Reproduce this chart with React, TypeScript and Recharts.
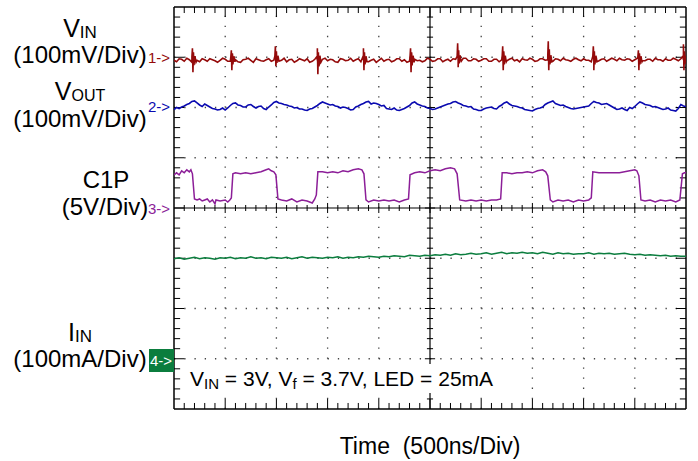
import React from "react";
import { LineChart, Line, XAxis, YAxis, ReferenceLine } from "recharts";

// scope screen: 10 time divisions (500ns/div), 8 vertical divisions
const X_DIVS = 10;
const Y_HALF = 4;
const SAMPLE_STEP = 0.1; // divisions between samples in the base records
const MID_SHIFT = 0.05; // second record, half a sample later

// channel ground markers (divisions from screen centre) and scales
const CH1_OFFSET = 2.98;
const CH2_OFFSET = 2.0;
const CH3_OFFSET = 0;
const CH4_OFFSET = -3.0;
const CH1_SCALE = 100; // mV/div
const CH2_SCALE = 100; // mV/div
const CH3_SCALE = 5; // V/div
const CH4_SCALE = 100; // mA/div

// VIN ripple (mV), sampled every 0.1 div
const VIN_MV = [
  -4, -1, -6, -3, -2, -7, -3, -1, -5, -4,
  -2, -6, -3, -8, -2, -4, -1, -5, -3, -6,
  -1, -4, -7, -2, -5, -3, -1, -6, -4, -2,
  -5, -3, -8, -2, -4, -6, -1, -3, -7, -2,
  -4, -6, -2, -5, -1, -3, -6, -2, -4, -5,
  -2, -5, -1, -4, -6, -2, -3, 0, -5, -2,
  -4, -1, -6, -2, -3, -5, 0, -3, -1, -4,
  -2, -5, -1, -3, -6, -2, 0, -4, -2, -3,
  -1, -4, -2, -5, -1, -3, -2, 0, -4, -2,
  -3, -1, -5, -2, 0, -3, -1, -4, -2, -1,
  -3,
];

// VIN ripple (mV), in-between samples
const VIN_MID_MV = [
  -7, -2, 0, -8, -4, -1, -6, -3, -8, 0,
  -6, -1, -7, -3, 0, -8, -3, -6, -1, -4,
  -6, 0, -3, -8, -1, -5, -8, -2, -6, 0,
  -2, -7, -1, -5, 0, -3, -7, -1, -4, -8,
  0, -3, -7, -1, -6, -8, -1, -5, -7, 0,
  -6, -1, -7, -2, -1, -6, 0, -5, -1, -6,
  -1, -6, -2, -7, 0, -2, -5, -7, -3, 0,
  -6, -1, -4, -7, -1, -5, -3, -6, 0, -5,
  -4, -7, 0, -2, -6, 0, -5, -3, -1, -6,
  0, -5, -2, -6, -3, -6, -4, 0, -5, -3,
];

// VIN switching spikes: [time div, mV]
const VIN_SPIKES: [number, number][] = [
  [0.35, 3], [0.36, 20], [0.37, -28], [0.38, 12], [0.39, -14], [0.41, 4], [0.43, -8],
  [1.11, 3], [1.12, 16], [1.13, -24], [1.14, 10], [1.15, -12], [1.17, 4], [1.19, -7],
  [1.97, 4], [1.98, 24], [1.99, -16], [2.0, 14], [2.01, -9], [2.03, 5], [2.05, -6],
  [2.79, 3], [2.8, 20], [2.81, -32], [2.82, 12], [2.83, -16], [2.85, 5], [2.87, -8],
  [3.69, 3], [3.7, 20], [3.71, -24], [3.72, 12], [3.73, -12], [3.75, 4], [3.77, -7],
  [4.61, 3], [4.62, 20], [4.63, -28], [4.64, 12], [4.65, -14], [4.67, 5], [4.69, -8],
  [5.53, 4], [5.54, 30], [5.55, -18], [5.56, 16], [5.57, -10], [5.59, 6], [5.61, -6],
  [6.41, 4], [6.42, 24], [6.43, -24], [6.44, 14], [6.45, -12], [6.47, 5], [6.49, -7],
  [7.3, 5], [7.31, 34], [7.32, -24], [7.33, 18], [7.34, -12], [7.36, 6], [7.38, -7],
  [8.18, 4], [8.19, 24], [8.2, -24], [8.21, 14], [8.22, -12], [8.24, 5], [8.26, -7],
  [9.06, 3], [9.07, 16], [9.08, -24], [9.09, 10], [9.1, -12], [9.12, 4], [9.14, -7],
  [9.94, 4], [9.95, 28], [9.96, -24], [9.97, 14], [9.98, -12], [9.99, 5],
];

// VOUT ripple (mV), sampled every 0.1 div
const VOUT_MV = [
  -4, -2, 3, 8, 13, 5, 7, 1, -3, -4,
  -5, 4, 9, 4, 1, 6, -1, 3, -4, 5,
  12, 8, 5, 2, 0, -3, -6, -2, 4, 11,
  7, 6, 2, 1, -2, -4, 3, 8, 12, 9,
  6, 4, -3, -1, -6, -2, 4, 11, 5, 2,
  -2, -3, 1, 5, 8, 12, 7, 3, 2, -4,
  -6, -1, 1, -3, 5, 11, 4, 2, -1, -5,
  -7, -2, 1, 9, 13, 6, 5, 0, -3, -1,
  1, 3, 12, 9, 7, 5, -1, -3, -4, 0,
  2, 11, 6, 4, 2, -2, -3, -5, -7, 6,
  2,
];

// VOUT ripple (mV), in-between samples
const VOUT_MID_MV = [
  0, 1, 6, 12, 9, 2, 4, -2, -5, -1,
  -1, 8, 5, 1, 5, 2, 2, -2, 1, 10,
  9, 6, 3, -1, -3, -5, -3, 1, 8, 9,
  5, 3, -1, 0, -5, 1, 6, 11, 7, 8,
  3, -2, -4, -5, -4, 1, 9, 7, 3, -1,
  -4, -1, 3, 7, 11, 9, 4, 1, -3, -6,
  -3, 0, -2, 2, 9, 7, 3, 0, -4, -6,
  -4, -1, 6, 11, 8, 4, 2, -2, -2, 0,
  2, 8, 10, 6, 8, 2, -4, -1, -6, -2,
  7, 9, 5, 1, 0, -4, -1, -6, -2, 3,
];

// C1P flying-cap node (V): [time div, volts]
const C1P_V: [number, number][] = [
  [0, 3.3], [0.05, 3.5], [0.1, 3.3], [0.15, 3.7], [0.2, 3.5], [0.25, 3.8], [0.3, 3.6], [0.33, 3.8],
  [0.36, 3.4], [0.4, 0.9], [0.45, 0.8], [0.5, 0.9], [0.55, 0.7], [0.6, 0.8], [0.65, 0.9], [0.7, 0.6],
  [0.75, 0.8], [0.8, 0.4], [0.82, 0.8], [0.9, 0.7], [1.0, 0.8], [1.05, 0.6], [1.09, 0.8],
  [1.12, 1.0], [1.15, 3.4], [1.2, 3.5], [1.3, 3.4], [1.4, 3.5], [1.5, 3.4], [1.6, 3.5], [1.7, 3.6],
  [1.8, 3.8], [1.85, 3.9], [1.9, 3.7], [1.95, 3.6],
  [1.99, 3.3], [2.03, 0.9], [2.1, 0.8], [2.2, 0.7], [2.3, 0.9], [2.4, 0.6], [2.5, 0.8], [2.6, 0.7],
  [2.7, 0.5], [2.75, 0.9], [2.78, 1.3],
  [2.81, 3.6], [2.9, 3.6], [3.0, 3.5], [3.1, 3.6], [3.2, 3.5], [3.3, 3.7], [3.4, 3.6], [3.5, 3.8],
  [3.6, 3.9], [3.67, 3.8],
  [3.71, 3.4], [3.75, 0.8], [3.8, 0.6], [3.9, 0.8], [4.0, 0.7], [4.1, 0.8], [4.2, 0.7], [4.3, 0.8],
  [4.4, 0.6], [4.5, 0.8], [4.58, 0.9],
  [4.61, 3.3], [4.7, 3.5], [4.8, 3.6], [4.9, 3.5], [5.0, 3.7], [5.1, 3.8], [5.2, 3.7], [5.3, 3.9],
  [5.4, 4.0], [5.48, 3.9],
  [5.53, 3.4], [5.58, 0.8], [5.7, 0.7], [5.8, 0.8], [5.9, 0.7], [6.0, 0.8], [6.1, 0.7], [6.2, 0.8],
  [6.3, 0.8], [6.38, 0.9],
  [6.41, 3.5], [6.5, 3.5], [6.6, 3.4], [6.7, 3.5], [6.8, 3.5], [6.9, 3.6], [7.0, 3.5], [7.1, 3.7],
  [7.2, 3.8], [7.26, 3.6],
  [7.3, 3.2], [7.35, 0.8], [7.4, 0.6], [7.5, 0.8], [7.6, 0.7], [7.7, 0.8], [7.8, 0.6], [7.9, 0.8],
  [8.0, 0.7], [8.1, 0.8], [8.15, 1.0],
  [8.18, 3.6], [8.3, 3.5], [8.4, 3.5], [8.5, 3.5], [8.6, 3.5], [8.7, 3.5], [8.8, 3.6], [8.9, 3.7],
  [9.0, 3.8], [9.04, 3.7],
  [9.08, 3.2], [9.12, 0.8], [9.2, 0.7], [9.3, 0.8], [9.4, 0.6], [9.5, 0.8], [9.6, 0.7], [9.7, 0.8],
  [9.8, 0.6], [9.88, 0.8],
  [9.93, 3.4], [9.97, 3.5], [10, 3.5],
];

// input current (mA), sampled every 0.1 div
const IIN_MA = [
  199, 201, 198, 200, 202, 199, 201, 200, 198, 201,
  200, 202, 199, 201, 200, 203, 200, 201, 199, 202,
  201, 200, 202, 199, 201, 203, 200, 202, 201, 200,
  202, 201, 203, 200, 202, 201, 203, 202, 204, 203,
  202, 204, 203, 205, 204, 203, 206, 205, 204, 206,
  205, 207, 206, 208, 206, 209, 207, 208, 210, 208,
  209, 211, 208, 210, 212, 209, 211, 210, 212, 210,
  211, 209, 212, 210, 208, 211, 209, 210, 208, 209,
  209, 211, 208, 210, 209, 210, 208, 209, 210, 208,
  207, 208, 206, 207, 206, 205, 206, 204, 205, 204,
  204,
];

const sampled = (vals: number[], shift = 0): [number, number][] =>
  vals.map((v, i) => [Math.round((shift + i * SAMPLE_STEP) * 1000) / 1000, v]);

const toScreen = (pts: [number, number][], offset: number, scale: number) =>
  pts
    .slice()
    .sort((a, b) => a[0] - b[0])
    .map(([t, v]) => ({ t, v: offset + v / scale }));

const ch1Data = toScreen(
  [...sampled(VIN_MV), ...sampled(VIN_MID_MV, MID_SHIFT), ...VIN_SPIKES],
  CH1_OFFSET,
  CH1_SCALE
);
const ch2Data = toScreen([...sampled(VOUT_MV), ...sampled(VOUT_MID_MV, MID_SHIFT)], CH2_OFFSET, CH2_SCALE);
const ch3Data = toScreen(C1P_V, CH3_OFFSET, CH3_SCALE);
const ch4Data = toScreen(sampled(IIN_MA), CH4_OFFSET, CH4_SCALE);

const FONT = "'Liberation Sans', Arial, sans-serif";

function gridLines() {
  const out: React.ReactNode[] = [];
  for (let i = 1; i < X_DIVS; i++) {
    if (i === 5) continue;
    out.push(
      <ReferenceLine key={"gx" + i} x={i} stroke="#444" strokeWidth={1.3} strokeDasharray="1.3 8.75" />
    );
  }
  for (let j = -3; j <= 3; j++) {
    if (j === 0) continue;
    out.push(
      <ReferenceLine key={"gy" + j} y={j} stroke="#444" strokeWidth={1.3} strokeDasharray="1.3 8.94" />
    );
  }
  // minor ticks on the frame and on the centre cross
  for (let i = 1; i < X_DIVS * 5; i++) {
    const x = i / 5;
    const major = i % 5 === 0;
    const len = major ? 0.2 : 0.12;
    const c = major ? 0.1 : 0.06;
    out.push(<ReferenceLine key={"tt" + i} segment={[{ x, y: Y_HALF }, { x, y: Y_HALF - len }]} stroke="#000" />);
    out.push(<ReferenceLine key={"tb" + i} segment={[{ x, y: -Y_HALF }, { x, y: -Y_HALF + len }]} stroke="#000" />);
    out.push(<ReferenceLine key={"tc" + i} segment={[{ x, y: -c }, { x, y: c }]} stroke="#000" />);
  }
  for (let i = 1; i < Y_HALF * 10; i++) {
    const y = -Y_HALF + i / 5;
    const major = i % 5 === 0;
    const len = major ? 0.2 : 0.12;
    const c = major ? 0.1 : 0.06;
    out.push(<ReferenceLine key={"tl" + i} segment={[{ x: 0, y }, { x: len, y }]} stroke="#000" />);
    out.push(<ReferenceLine key={"tr" + i} segment={[{ x: X_DIVS, y }, { x: X_DIVS - len, y }]} stroke="#000" />);
    out.push(<ReferenceLine key={"tm" + i} segment={[{ x: 5 - c, y }, { x: 5 + c, y }]} stroke="#000" />);
  }
  return out;
}

export default function App() {
  return (
    <div style={{ position: "absolute", left: 0, top: 0, width: 698, height: 461, background: "#fff" }}>
      <LineChart width={698} height={461} margin={{ top: 7, right: 12, bottom: 52, left: 174 }}>
        <XAxis type="number" dataKey="t" domain={[0, X_DIVS]} hide allowDataOverflow />
        <YAxis type="number" domain={[-Y_HALF, Y_HALF]} hide allowDataOverflow />
        {gridLines()}
        <ReferenceLine x={5} stroke="#000" strokeWidth={1.2} />
        <ReferenceLine y={0} stroke="#000" strokeWidth={1.2} />
        <ReferenceLine x={0} stroke="#000" strokeWidth={1.5} />
        <ReferenceLine x={X_DIVS} stroke="#000" strokeWidth={1.5} />
        <ReferenceLine y={Y_HALF} stroke="#000" strokeWidth={1.5} />
        <ReferenceLine y={-Y_HALF} stroke="#000" strokeWidth={1.5} />
        <Line data={ch1Data} dataKey="v" type="linear" stroke="#940a0a" strokeWidth={1.6} dot={false} isAnimationActive={false} />
        <Line data={ch2Data} dataKey="v" type="linear" stroke="#0a0ab0" strokeWidth={1.6} dot={false} isAnimationActive={false} />
        <Line data={ch3Data} dataKey="v" type="linear" stroke="#8c1e98" strokeWidth={1.5} dot={false} isAnimationActive={false} />
        <Line data={ch4Data} dataKey="v" type="linear" stroke="#0b7d3e" strokeWidth={1.5} dot={false} isAnimationActive={false} />
      </LineChart>
      <svg width={698} height={461} style={{ position: "absolute", left: 0, top: 0, pointerEvents: "none" }} fontFamily={FONT}>
        <text x={80} y={37} textAnchor="middle" fontSize={25}>
          V<tspan fontSize={17} dy={1}>IN</tspan>
        </text>
        <text x={80} y={63} textAnchor="middle" fontSize={24}>(100mV/Div)</text>
        <text x={148} y={63} fontSize={15} fill="#940a0a">1-&gt;</text>

        <text x={80} y={100} textAnchor="middle" fontSize={25}>
          V<tspan fontSize={16} dy={1}>OUT</tspan>
        </text>
        <text x={80} y={127} textAnchor="middle" fontSize={24}>(100mV/Div)</text>
        <text x={148} y={112} fontSize={15} fill="#0a0ab0">2-&gt;</text>

        <text x={106} y={188} textAnchor="middle" fontSize={24}>C1P</text>
        <text x={105} y={215} textAnchor="middle" fontSize={24}>(5V/Div)</text>
        <text x={148} y={214} fontSize={15} fill="#8c1e98">3-&gt;</text>

        <text x={80} y={341} textAnchor="middle" fontSize={25}>
          I<tspan fontSize={17} dy={1}>IN</tspan>
        </text>
        <text x={80} y={367} textAnchor="middle" fontSize={24}>(100mA/Div)</text>
        <rect x={149} y={349} width={25} height={23} fill="#0b7d3e" />
        <text x={150} y={366} fontSize={15} fill="#fff">4-&gt;</text>

        <rect x={186} y={364} width={316} height={29} fill="#fff" />
        <text x={190} y={386} fontSize={21}>
          V<tspan fontSize={15} dy={3}>IN</tspan>
          <tspan dy={-3}> = 3V, V</tspan>
          <tspan fontSize={15} dy={3}>f</tspan>
          <tspan dy={-3}> = 3.7V, LED = 25mA</tspan>
        </text>

        <text x={430} y={454} textAnchor="middle" fontSize={23} style={{ whiteSpace: "pre" }}>
          Time  (500ns/Div)
        </text>
      </svg>
    </div>
  );
}
